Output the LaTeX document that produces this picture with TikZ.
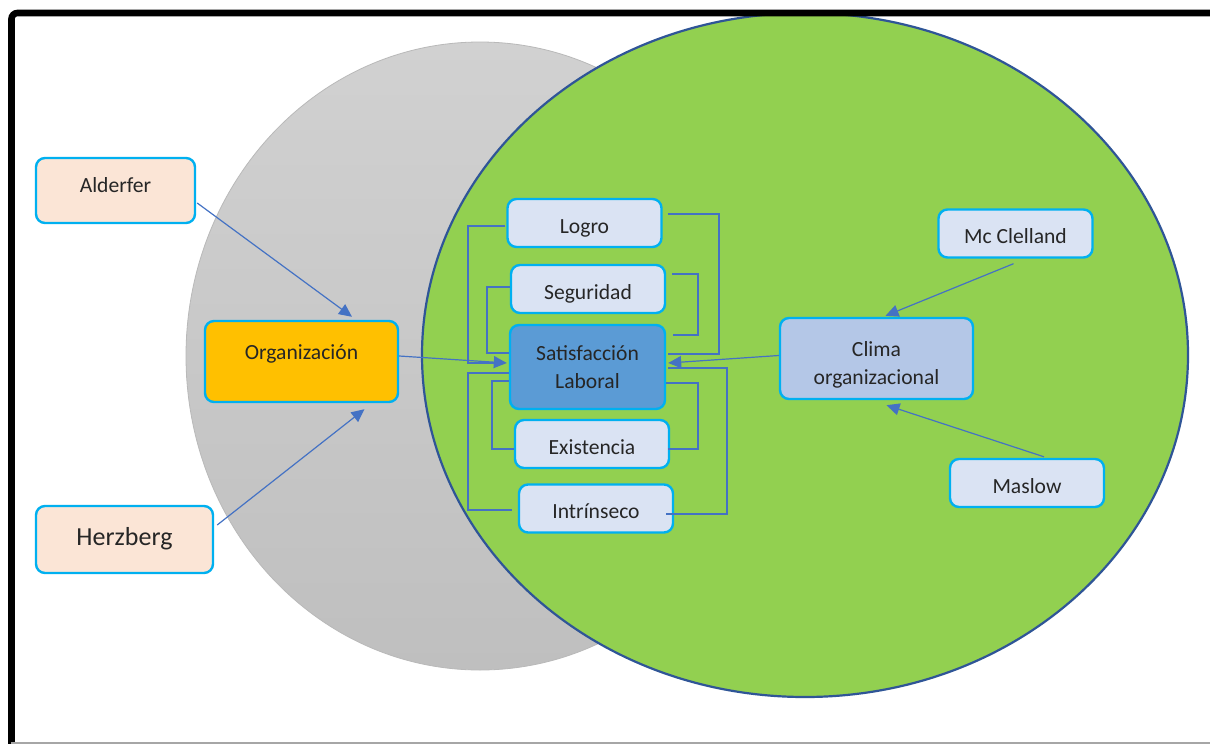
\documentclass[tikz,border=0pt]{standalone}
\usepackage{fontspec}
\setmainfont{Carlito}
\usetikzlibrary{arrows.meta,calc}
\definecolor{cyanb}{HTML}{00B0F0}
\definecolor{peach}{HTML}{FBE5D6}
\definecolor{lblue}{HTML}{DAE3F3}
\definecolor{mblue}{HTML}{B4C7E7}
\definecolor{dblue}{HTML}{5B9BD5}
\definecolor{orgc}{HTML}{FFC000}
\definecolor{connc}{HTML}{4472C4}
\definecolor{vgreen}{HTML}{92D050}
\definecolor{vedge}{HTML}{2F5597}
\definecolor{gtop}{HTML}{D1D1D1}
\definecolor{gbot}{HTML}{BFBFBF}
\newcommand{\tx}[2]{\raisebox{#1}[0pt][0pt]{#2}}
\begin{document}
\begin{tikzpicture}[x=0.5pt,y=-0.5pt,
  box/.style={draw=cyanb, line width=1.2pt, rounded corners=4.5pt, inner sep=0pt,
    font=\fontsize{10.8}{14}\selectfont, align=center, text=black!85},
  smallbox/.style={box, fill=lblue, minimum width=77pt, minimum height=24pt},
  conn/.style={draw=connc, line width=0.6pt},
  arr/.style={conn, -{Triangle[length=6.5pt,width=6pt]}},
]
\useasboundingbox (0,0) rectangle (1210,744);
\fill[white] (0,0) rectangle (1210,744);
% Venn ellipses
\shade[top color=gtop, bottom color=gbot, draw=gray!55, line width=0.4pt]
  (480,356) ellipse [x radius=294, y radius=314];
\draw[fill=vgreen, draw=vedge, line width=1.1pt]
  (805,355) ellipse [x radius=383, y radius=342];
% frame
\draw[line width=3.3pt, rounded corners=3pt] (11.5,770) -- (11.5,13) -- (1230,13);
\draw[gray!70, line width=0.6pt] (11,743) -- (1220,743);
% nodes
\node[box, fill=peach, minimum width=79.5pt, minimum height=32.5pt] (ald) at (115.5,190.5) {\tx{-1.1pt}{Alderfer}};
\node[box, fill=peach, minimum width=88.5pt, minimum height=33.5pt, font=\fontsize{13}{16}\selectfont] (her) at (124.5,539.5) {\tx{-2.75pt}{Herzberg}};
\node[box, fill=orgc, minimum width=96.5pt, minimum height=40.5pt] (org) at (301.5,361.5) {\tx{1.1pt}{Organización}};
\node[smallbox] (logro) at (584.5,223) {\tx{-5.1pt}{Logro}};
\node[smallbox] (seg) at (588,289) {\tx{-5pt}{Seguridad}};
\node[box, fill=dblue, minimum width=77.5pt, minimum height=42pt] (sat) at (587.5,367) {Satisfacción\\Laboral};
\node[smallbox] (exi) at (592,444) {\tx{-5.1pt}{Existencia}};
\node[smallbox] (intr) at (596,508.5) {\tx{-4.9pt}{Intrínseco}};
\node[box, fill=mblue, minimum width=96.5pt, minimum height=40.5pt] (clima) at (876.5,358.5) {\raisebox{-3pt}[\height][\depth]{\begin{tabular}{@{}c@{}}Clima\\organizacional\end{tabular}}};
\node[smallbox] (mcc) at (1015.5,233.5) {\tx{-4.9pt}{Mc Clelland}};
\node[smallbox] (mas) at (1027,483) {\tx{-5.1pt}{Maslow}};
% arrows
\draw[arr] ($(ald.east)+(1,12.5)$) -- ($(org.north)+(50.5,-3)$);
\draw[arr] ($(her.east)+(3,-14.5)$) -- ($(org.south)+(63,6)$);
\draw[arr] ($(org.east)+(0,-5.5)$) -- ($(sat.west)+(-2,-4)$);
\draw[arr] ($(clima.west)+(0,-3)$) -- ($(sat.east)+(2,-4)$);
\draw[arr] ($(mcc.south)+(-2,5)$) -- ($(clima.north)+(9,-1)$);
\draw[arr] ($(mas.north)+(17,-1)$) -- ($(clima.south)+(10,5)$);
% elbow connectors, left side
\draw[conn] ($(logro.west)+(-1,3)$) -- (468,226) |- ($(sat.west)+(-8,-4)$);
\draw[conn] ($(seg.west)+(0,-2)$) -- (487,287) |- ($(sat.west)+(0,-14)$);
\draw[conn] ($(sat.west)+(0,6)$) -- (468,373) |- ($(intr.west)+(-6,1.5)$);
\draw[conn] ($(sat.west)+(0,14)$) -- (492,381) |- ($(exi.west)+(0,5)$);
% elbow connectors, right side
\draw[conn] ($(logro.east)+(5,-9)$) -- (719,214) |- ($(sat.east)+(2,-13)$);
\draw[conn] ($(seg.east)+(6,-15)$) -- (698,274) |- ($(sat.east)+(7,-32)$);
\draw[conn] ($(intr.east)+(-8,5.5)$) -- (727,514) |- ($(sat.east)+(2,1)$);
\draw[conn] ($(exi.east)+(-2,5)$) -- (698,449) |- ($(sat.east)+(0,16)$);
\end{tikzpicture}
\end{document}
